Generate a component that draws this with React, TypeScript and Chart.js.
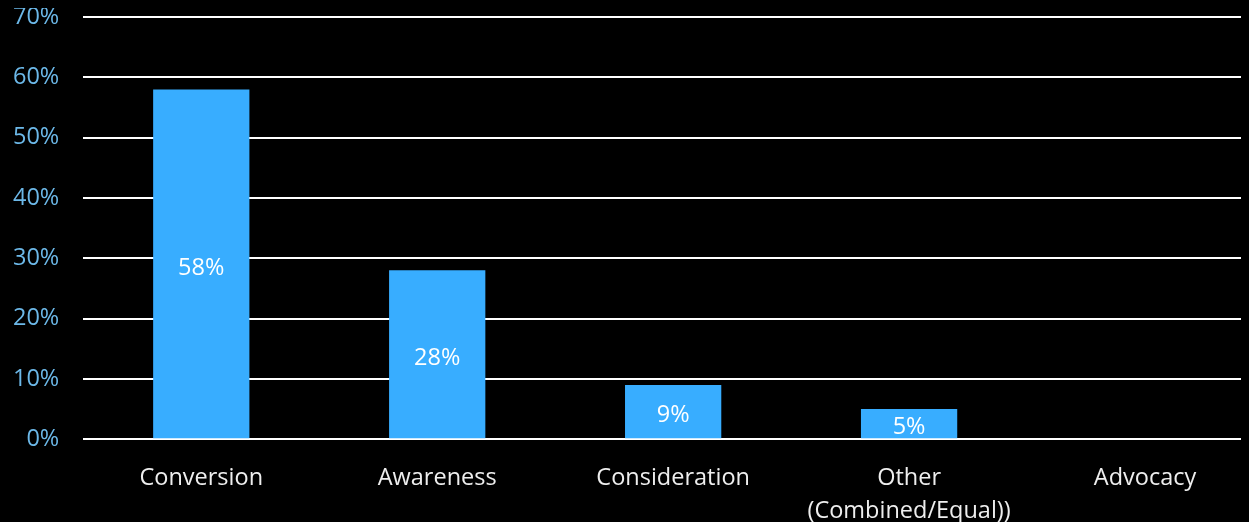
import React, { useEffect, useRef } from "react";
import { Chart, registerables } from "chart.js";

Chart.register(...registerables);

const categories: (string | string[])[] = [
  "Conversion",
  "Awareness",
  "Consideration",
  ["Other", "(Combined/Equal))"],
  "Advocacy",
];
const shares: number[] = [58, 28, 9, 5, 0];
const barLabels: string[] = ["58%", "28%", "9%", "5%", ""];
const yTicks: number[] = [0, 10, 20, 30, 40, 50, 60, 70];

const FONT = "'Open Sans', 'Noto Sans', sans-serif";
const FS = 23.5;

const centerLabels = {
  id: "centerLabels",
  afterDatasetsDraw(chart: any) {
    const ctx = chart.ctx;
    const meta = chart.getDatasetMeta(0);
    ctx.save();
    ctx.fillStyle = "#ffffff";
    ctx.font = `${FS}px ${FONT}`;
    ctx.textAlign = "center";
    ctx.textBaseline = "middle";
    meta.data.forEach((bar: any, i: number) => {
      const t = barLabels[i];
      if (!t) return;
      const y = (bar.y + bar.base) / 2 + 4;
      ctx.fillText(t, bar.x, y);
    });
    ctx.restore();
  },
};

export default function App() {
  const ref = useRef<HTMLCanvasElement | null>(null);
  useEffect(() => {
    document.body.style.background = "#000";
    document.body.style.overflow = "hidden";
    const chart = new Chart(ref.current as HTMLCanvasElement, {
      type: "bar",
      data: {
        labels: categories,
        datasets: [
          {
            data: shares,
            backgroundColor: "#38adff",
            barPercentage: 0.51,
            categoryPercentage: 0.8,
          },
        ],
      },
      options: {
        animation: false,
        responsive: true,
        maintainAspectRatio: false,
        layout: { padding: 0 },
        plugins: { legend: { display: false }, tooltip: { enabled: false } },
        scales: {
          x: {
            grid: { display: false, drawTicks: false },
            border: { display: false },
            ticks: {
              color: "#eeeeee",
              font: { family: FONT, size: FS, lineHeight: 1.4 },
              padding: 23,
              maxRotation: 0,
              autoSkip: false,
            },
          },
          y: {
            min: 0,
            max: 70,
            afterBuildTicks: (axis: any) => {
              axis.ticks = yTicks.map((v) => ({ value: v }));
            },
            grid: { color: "#ffffff", lineWidth: 2, drawTicks: false },
            border: { display: false },
            ticks: {
              color: "#6cb8e8",
              font: { family: FONT, size: FS },
              padding: 24,
              callback: (v: any) => `${v}%`,
            },
          },
        },
      },
      plugins: [centerLabels],
    });
    return () => chart.destroy();
  }, []);
  return (
    <div style={{ width: 1241, height: 514, overflow: "hidden", background: "#000", position: "relative" }}>
      <div style={{ position: "absolute", left: -19, top: -29, width: 1274, height: 572 }}>
        <canvas ref={ref} />
      </div>
    </div>
  );
}
